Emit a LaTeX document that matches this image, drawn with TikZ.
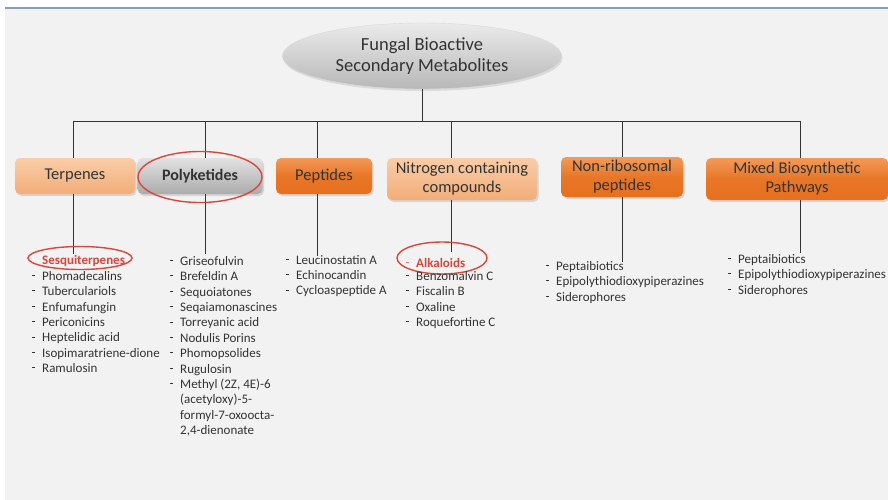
\documentclass[tikz,border=0pt]{standalone}
\usepackage{fontspec}
\setmainfont{Carlito}
\usetikzlibrary{shapes.geometric,shadows,calc}
\definecolor{bg}{HTML}{F2F2F2}
\definecolor{topline}{HTML}{8A9DB8}
\definecolor{txt}{HTML}{333333}
\definecolor{hired}{HTML}{D8463C}
\definecolor{orA}{HTML}{F29A58}
\definecolor{orB}{HTML}{E6701E}
\definecolor{lorA}{HTML}{F9CDA8}
\definecolor{lorB}{HTML}{F2AD78}
\definecolor{grA}{HTML}{E2E2E2}
\definecolor{grB}{HTML}{ABABAB}
\newcommand{\bl}{\makebox[10pt][l]{\raisebox{4.5pt}{\rule{2.8pt}{0.8pt}}}}
\newcommand{\ind}{\hspace*{10pt}}
\tikzset{
  cat/.style={rounded corners=5pt, align=center, text=txt, inner sep=2pt,
    font=\fontsize{16.5}{19}\selectfont,
    drop shadow={opacity=0.25, shadow xshift=1.5pt, shadow yshift=-2pt}},
  orbox/.style={cat, top color=orA, bottom color=orB, middle color=orB!85!orA},
  lorbox/.style={cat, top color=lorA, bottom color=lorB},
  grbox/.style={cat, top color=grA, bottom color=grB, font=\bfseries\fontsize{16}{19}\selectfont},
  conn/.style={draw=black!80, line width=1pt},
  redring/.style={draw=hired, line width=1.4pt},
  lst/.style={anchor=north west, inner sep=0pt, align=left, text=txt,
    font=\fontsize{13}{15.4}\selectfont},
  head/.style={anchor=base west, inner sep=0pt, text=hired,
    font=\bfseries\fontsize{13}{15.4}\selectfont}
}
\begin{document}
\begin{tikzpicture}[x=1pt,y=-1pt]
\useasboundingbox (0,0) rectangle (888,500);
\fill[white] (0,0) rectangle (888,500);
\fill[bg] (5,8) rectangle (888,500);
\draw[topline, line width=1.4pt] (5,8) -- (888,8);

% root
\node[ellipse, minimum width=279pt, minimum height=66pt, align=center,
  top color=white!92!black, bottom color=black!28, draw=white!85!black,
  drop shadow={opacity=0.2, shadow xshift=1pt, shadow yshift=-2pt},
  text=txt, font=\fontsize{18.5}{20.5}\selectfont]
  (root) at (422,56) {Fungal Bioactive\\Secondary Metabolites};

% categories
\node[lorbox, minimum width=120pt, minimum height=36pt] (b1) at (75,176) {Terpenes};
\node[grbox, minimum width=125pt, minimum height=36pt] (b2) at (200,176) {Polyketides};
\node[orbox, minimum width=96pt, minimum height=36pt] (b3) at (324,176) {Peptides};
\node[lorbox, minimum width=150pt, minimum height=42pt] (b4) at (462,179) {Nitrogen containing\\compounds};
\node[orbox, minimum width=122pt, minimum height=40pt] (b5) at (622,177) {Non-ribosomal\\peptides};
\node[orbox, minimum width=182pt, minimum height=42pt] (b6) at (797,179) {Mixed Biosynthetic\\Pathways};

% bus
\coordinate (bus) at (422,122);
\draw[conn] (root.south) -- (bus);
\draw[conn] (bus) -| ([xshift=-2pt]b1.north);
\draw[conn] (bus) -| ([xshift=5pt]b2.north);
\draw[conn] (bus) -| ([xshift=-7pt]b3.north);
\draw[conn] (bus) -| ([xshift=-11pt]b4.north);
\draw[conn] (bus) -| (b5.north);
\draw[conn] (bus) -| ([xshift=3pt]b6.north);

% stems
\coordinate (e1) at (73,254);
\coordinate (e2) at (205,254);
\coordinate (e3) at (317,256);
\coordinate (e4) at (451,252);
\coordinate (e5) at (622,262);
\coordinate (e6) at (800,253);
\draw[conn] ([xshift=-2pt]b1.south) -- (e1);
\draw[conn] ([xshift=5pt]b2.south) -- (e2);
\draw[conn] ([xshift=-7pt]b3.south) -- (e3);
\draw[conn] ([xshift=-11pt]b4.south) -- (e4);
\draw[conn] (b5.south) -- (e5);
\draw[conn] ([xshift=3pt]b6.south) -- (e6);

% red rings
\draw[redring] (200,177) ellipse (62 and 25.5);
\draw[redring] (80,258) ellipse (52 and 11.5);
\draw[redring] (442,258) ellipse (45 and 16);

% lists
\node[head] (h1) at (42,264.5) {Sesquiterpenes};
\node[lst] (l1) at (32,271) {\bl Phomadecalins\\\bl Tuberculariols\\\bl Enfumafungin\\\bl Periconicins\\\bl Heptelidic acid\\\bl Isopimaratriene-dione\\\bl Ramulosin};
\node[lst] (l2) at (170,256) {\bl Griseofulvin\\\bl Brefeldin A\\\bl Sequoiatones\\\bl Seqaiamonascines\\\bl Torreyanic acid\\\bl Nodulis Porins\\\bl Phomopsolides\\\bl Rugulosin\\\bl Methyl (2Z, 4E)-6\\\ind(acetyloxy)-5-\\\ind formyl-7-oxoocta-\\\ind 2,4-dienonate};
\node[lst] (l3) at (286,255) {\bl Leucinostatin A\\\bl Echinocandin\\\bl Cycloaspeptide A};
\node[head] (h4) at (406,267.5) {{\color{hired!70}\bl}Alkaloids};
\node[lst] (l4) at (406,271) {\bl Benzomalvin C\\\bl Fiscalin B\\\bl Oxaline\\\bl Roquefortine C};
\node[lst] (l5) at (546,261) {\bl Peptaibiotics\\\bl Epipolythiodioxypiperazines\\\bl Siderophores};
\node[lst] (l6) at (728,254) {\bl Peptaibiotics\\\bl Epipolythiodioxypiperazines\\\bl Siderophores};
\end{tikzpicture}
\end{document}
